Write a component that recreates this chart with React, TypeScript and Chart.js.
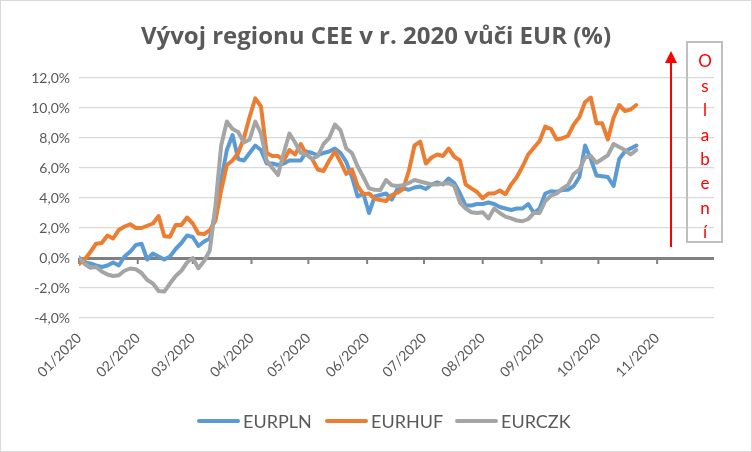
import React, { useEffect, useRef } from "react";
import { Chart, registerables } from "chart.js";

Chart.register(...registerables);

const chartTitle = "Vývoj regionu CEE v r. 2020 vůči EUR (%)";
const sideLabel = ["O", "s", "l", "a", "b", "e", "n", "í"];
const seriesNames = ["EURPLN", "EURHUF", "EURCZK"];
const seriesColors = ["#5B9BD5", "#ED7D31", "#A5A5A5"];

// day of year 2020 (0 = 1 Jan)
const days = [
  0, 3, 6, 9, 12, 15, 18, 21, 24, 27, 30, 33, 36, 39, 42, 45, 48, 51, 54, 57,
  60, 63, 66, 69, 72, 75, 78, 81, 84, 87, 90, 93, 96, 99, 102, 105, 108, 111, 114, 117,
  120, 123, 126, 129, 132, 135, 138, 141, 144, 147, 150, 153, 156, 159, 162, 165, 168, 171, 174, 177,
  180, 183, 186, 189, 192, 195, 198, 201, 204, 207, 210, 213, 216, 219, 222, 225, 228, 231, 234, 237,
  240, 243, 246, 249, 252, 255, 258, 261, 264, 267, 270, 273, 276, 279, 282, 285, 288, 291, 294,
];

const eurpln = [
  -0.1, -0.3, -0.36, -0.5, -0.6, -0.5, -0.3, -0.5, 0.1, 0.42, 0.87, 0.95, -0.1, 0.3, 0.1, -0.1, 0.1, 0.6, 1.0, 1.5,
  1.4, 0.8, 1.1, 1.3, 3.1, 5.2, 7.2, 8.2, 6.6, 6.5, 7.0, 7.5, 7.2, 6.3, 6.3, 6.2, 6.3, 6.5, 6.5, 6.5,
  7.1, 7.0, 6.85, 7.0, 7.1, 7.3, 7.0, 6.4, 5.4, 4.1, 4.3, 3.0, 4.1, 4.2, 4.3, 3.9, 4.6, 4.64, 4.55, 4.7,
  4.76, 4.6, 4.9, 5.05, 4.9, 5.3, 5.0, 4.3, 3.5, 3.5, 3.6, 3.6, 3.7, 3.6, 3.4, 3.3, 3.2, 3.3, 3.3, 3.6,
  3.0, 3.3, 4.3, 4.45, 4.42, 4.53, 4.55, 4.8, 5.4, 7.5, 6.6, 5.5, 5.45, 5.4, 4.8, 6.6, 7.1, 7.3, 7.5,
];

const eurhuf = [
  -0.4, -0.1, 0.4, 0.95, 1.0, 1.5, 1.3, 1.87, 2.1, 2.25, 2.0, 2.0, 2.15, 2.3, 2.8, 1.45, 1.42, 2.2, 2.2, 2.7,
  2.3, 1.64, 1.6, 1.85, 2.5, 4.5, 6.2, 6.5, 7.0, 8.0, 9.4, 10.64, 10.1, 7.0, 6.8, 6.8, 6.5, 7.2, 6.9, 7.6,
  6.9, 6.6, 5.9, 5.8, 6.5, 7.1, 6.4, 5.6, 5.9, 4.8, 4.25, 4.3, 3.95, 3.87, 3.8, 4.2, 4.35, 4.6, 5.8, 7.5,
  7.76, 6.3, 6.7, 6.9, 6.8, 7.3, 6.75, 6.5, 4.9, 4.64, 4.4, 3.98, 4.3, 4.3, 4.5, 4.25, 4.9, 5.4, 6.1, 6.9,
  7.35, 7.8, 8.76, 8.6, 7.9, 7.98, 8.15, 8.9, 9.4, 10.4, 10.7, 8.98, 8.98, 7.9, 9.35, 10.2, 9.8, 9.9, 10.2,
];

const eurczk = [
  0.05, -0.4, -0.65, -0.6, -0.9, -1.1, -1.2, -1.15, -0.85, -0.7, -0.75, -1.0, -1.47, -1.7, -2.2, -2.24, -1.7, -1.2, -0.85, -0.3,
  0.0, -0.69, -0.2, 0.5, 3.5, 7.5, 9.1, 8.6, 8.4, 7.7, 7.9, 9.1, 8.3, 6.5, 6.0, 5.53, 7.0, 8.3, 7.7, 7.0,
  6.9, 6.6, 6.8, 7.6, 8.0, 8.9, 8.5, 7.3, 7.0, 6.1, 5.4, 4.64, 4.55, 4.53, 5.2, 4.85, 4.8, 4.85, 5.0, 5.2,
  5.1, 5.0, 4.9, 4.9, 4.95, 4.98, 4.8, 3.7, 3.3, 3.05, 3.0, 3.05, 2.64, 3.3, 3.0, 2.76, 2.64, 2.5, 2.45, 2.6,
  3.0, 3.0, 3.8, 4.15, 4.3, 4.64, 4.87, 5.6, 5.9, 6.7, 6.8, 6.35, 6.6, 6.85, 7.6, 7.4, 7.2, 6.9, 7.2,
];

const monthTicks = [0, 31, 60, 91, 121, 152, 182, 213, 244, 274, 305];
const monthLabels = [
  "01/2020", "02/2020", "03/2020", "04/2020", "05/2020", "06/2020",
  "07/2020", "08/2020", "09/2020", "10/2020", "11/2020",
];
const yMin = -4;
const yMax = 12;
const yStep = 2;
const xMax = 335;

const FONT = "Lato, 'Open Sans', sans-serif";
const TITLE_FONT = "'Open Sans', Lato, sans-serif";
const TEXT = "#595959";

const decorations = {
  id: "decorations",
  beforeDraw(chart: any) {
    const ctx = chart.ctx;
    ctx.save();
    ctx.fillStyle = "#ffffff";
    ctx.fillRect(0, 0, chart.width, chart.height);
    ctx.strokeStyle = "#d9d9d9";
    ctx.lineWidth = 1;
    ctx.strokeRect(0.5, 0.5, chart.width - 1, chart.height - 1);
    ctx.restore();
  },
  beforeDatasetsDraw(chart: any) {
    const ctx = chart.ctx;
    const xs = chart.scales.x;
    const ys = chart.scales.y;
    const y0 = ys.getPixelForValue(0);
    ctx.save();
    ctx.fillStyle = "#808080";
    monthTicks.forEach((v) => {
      const px = xs.getPixelForValue(v);
      ctx.fillRect(px - 1, y0, 2, 6);
    });
    ctx.restore();
  },
  afterDraw(chart: any) {
    const ctx = chart.ctx;
    ctx.save();
    // title
    ctx.fillStyle = TEXT;
    ctx.font = `bold 24px ${TITLE_FONT}`;
    ctx.textAlign = "center";
    ctx.textBaseline = "middle";
    ctx.fillText(chartTitle, 376, 37);

    // legend
    ctx.font = `18px ${FONT}`;
    ctx.textAlign = "left";
    const starts = [197, 325, 455];
    const ly = 421;
    seriesNames.forEach((n, i) => {
      const lx = starts[i];
      ctx.strokeStyle = seriesColors[i];
      ctx.lineWidth = 4;
      ctx.lineCap = "round";
      ctx.beginPath();
      ctx.moveTo(lx + 2, ly);
      ctx.lineTo(lx + 41, ly);
      ctx.stroke();
      ctx.fillStyle = TEXT;
      ctx.fillText(n, lx + 46, ly + 1);
    });

    // arrow
    ctx.strokeStyle = "#FF0000";
    ctx.fillStyle = "#FF0000";
    ctx.lineWidth = 2;
    ctx.lineCap = "butt";
    ctx.beginPath();
    ctx.moveTo(671, 247);
    ctx.lineTo(671, 60);
    ctx.stroke();
    ctx.beginPath();
    ctx.moveTo(671, 51);
    ctx.lineTo(677, 63);
    ctx.lineTo(665, 63);
    ctx.closePath();
    ctx.fill();

    // side box
    ctx.strokeStyle = "#bfbfbf";
    ctx.lineWidth = 2;
    ctx.strokeRect(687, 42, 35, 200);
    ctx.fillStyle = "#FF0000";
    ctx.font = `17px ${FONT}`;
    ctx.textAlign = "center";
    ctx.textBaseline = "middle";
    sideLabel.forEach((ch, i) => {
      ctx.fillText(ch, 705, 62 + i * 24.4);
    });
    ctx.restore();
  },
};

export default function App() {
  const ref = useRef<HTMLCanvasElement | null>(null);
  useEffect(() => {
    if (!ref.current) return;
    const all = [eurpln, eurhuf, eurczk];
    const chart = new Chart(ref.current, {
      type: "line",
      data: {
        datasets: all.map((vals, i) => ({
          label: seriesNames[i],
          data: days.map((d, j) => ({ x: d, y: vals[j] })),
          borderColor: seriesColors[i],
          backgroundColor: seriesColors[i],
          borderWidth: 4,
          pointRadius: 0,
          tension: 0,
          borderJoinStyle: "round",
          borderCapStyle: "round",
          order: 2 - i,
        })),
      },
      options: {
        animation: false,
        responsive: false,
        maintainAspectRatio: false,
        layout: { padding: { left: 0, right: 38, top: 78, bottom: 0 } },
        plugins: {
          legend: { display: false },
          title: { display: false },
          tooltip: { enabled: false },
        },
        scales: {
          x: {
            type: "linear",
            min: 0,
            max: xMax,
            grid: { display: false },
            border: { display: false },
            afterBuildTicks: (s: any) => {
              s.ticks = monthTicks.map((v) => ({ value: v }));
            },
            afterFit: (s: any) => {
              s.height = 134;
            },
            ticks: {
              autoSkip: false,
              minRotation: 45,
              maxRotation: 45,
              padding: 4,
              color: TEXT,
              font: { family: FONT, size: 14 },
              callback: (_v: any, i: number) => monthLabels[i],
            },
          },
          y: {
            min: yMin,
            max: yMax,
            border: { display: false },
            afterFit: (s: any) => {
              s.width = 79;
            },
            grid: {
              drawTicks: false,
              color: (c: any) => (c.tick && c.tick.value === 0 ? "#808080" : "#d9d9d9"),
              lineWidth: (c: any) => (c.tick && c.tick.value === 0 ? 3 : 1.3),
            },
            ticks: {
              stepSize: yStep,
              padding: 9,
              color: TEXT,
              font: { family: FONT, size: 14 },
              callback: (v: any) => Number(v).toFixed(1).replace(".", ",") + "%",
            },
          },
        },
      },
      plugins: [decorations],
    } as any);
    return () => chart.destroy();
  }, []);
  return (
    <div style={{ position: "absolute", left: 0, top: 0, width: 752, height: 452 }}>
      <canvas ref={ref} width={752} height={452} />
    </div>
  );
}
